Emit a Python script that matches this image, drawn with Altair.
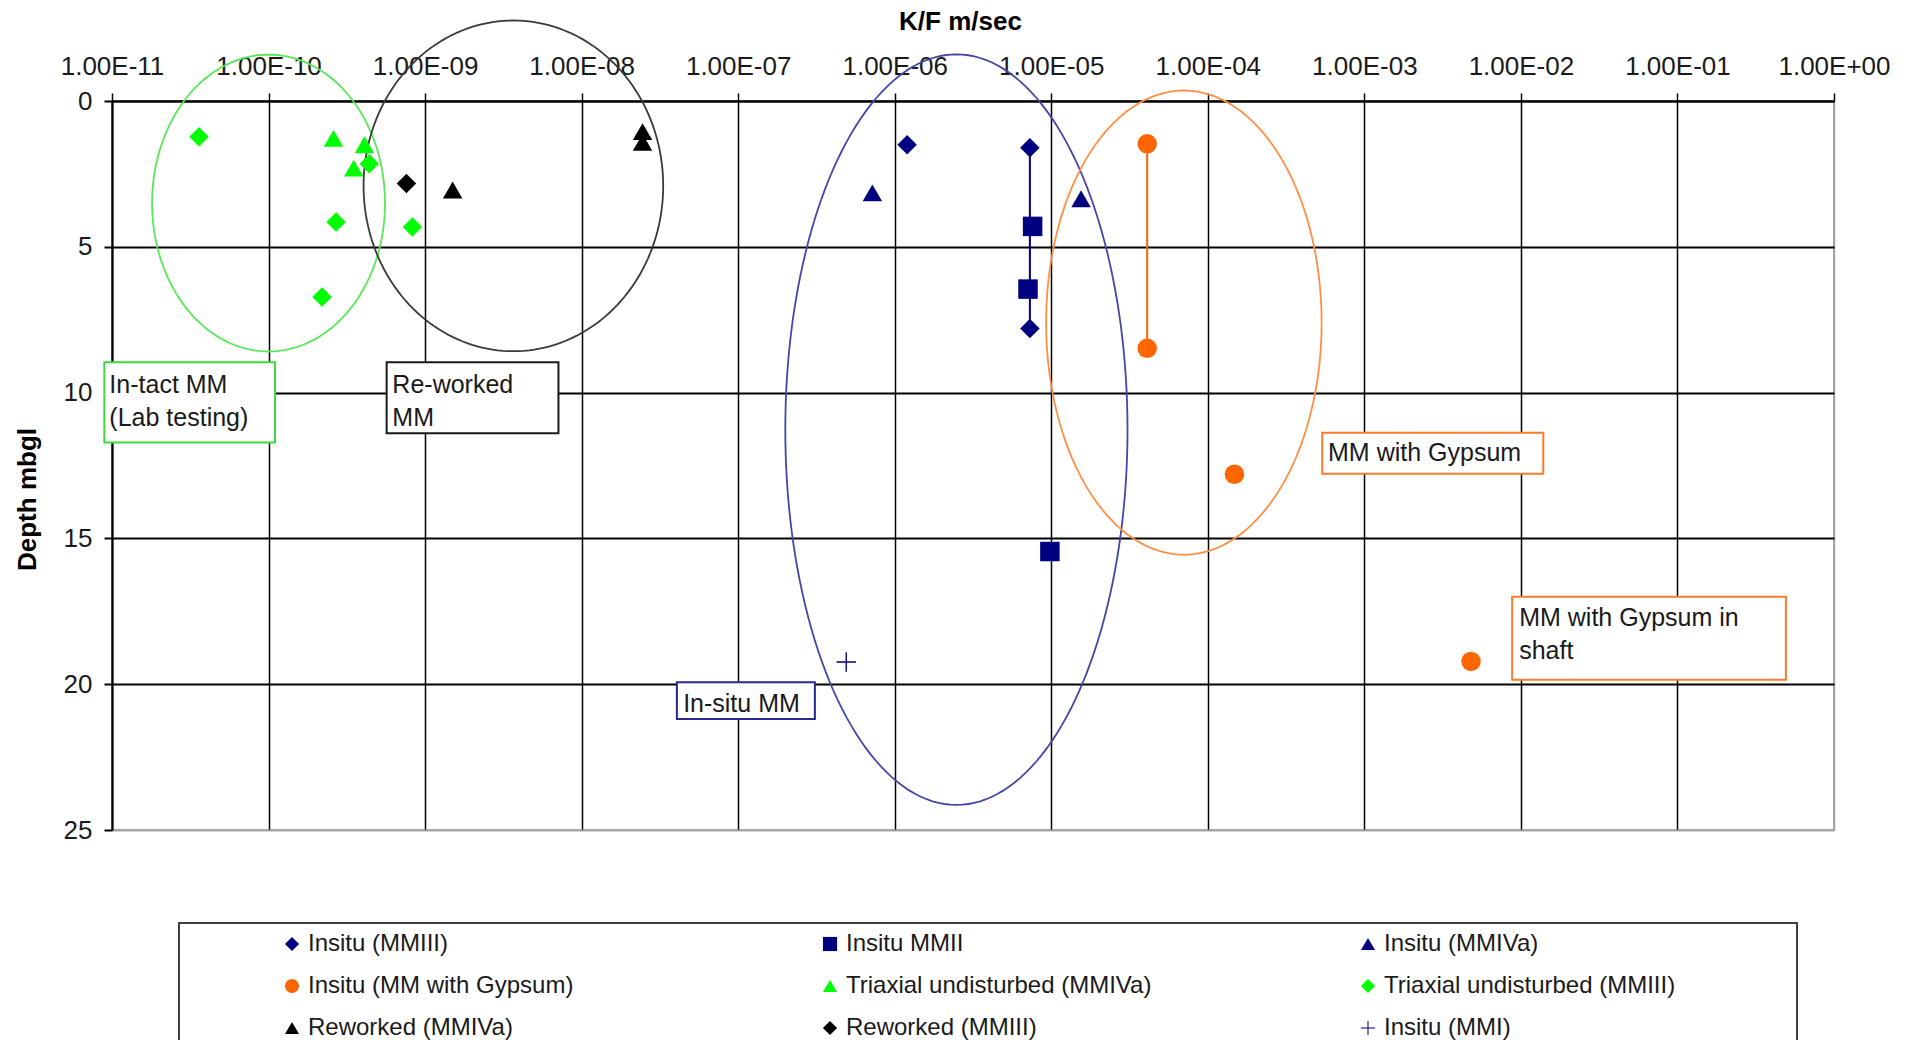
import altair as alt
import pandas as pd

# Hydraulic conductivity (K, m/s) of mudstone samples against depth below ground level
SERIES = [
    "Insitu (MMIII)", "Insitu MMII", "Insitu (MMIVa)",
    "Insitu (MM with Gypsum)", "Triaxial undisturbed (MMIVa)", "Triaxial undisturbed (MMIII)",
    "Reworked (MMIVa)", "Reworked (MMIII)", "Insitu (MMI)",
]
SERIES_COLORS = [
    "#000080", "#000080", "#000080",
    "#ff6600", "#00ff00", "#00ff00",
    "#000000", "#000000", "#000080",
]
# thin plus sign drawn as a filled outline
PLUS = ("M-1,-0.07L-0.07,-0.07L-0.07,-1L0.07,-1L0.07,-0.07L1,-0.07L1,0.07"
        "L0.07,0.07L0.07,1L-0.07,1L-0.07,0.07L-1,0.07Z")
SERIES_SHAPES = [
    "diamond", "square", "triangle-up",
    "circle", "triangle-up", "diamond",
    "triangle-up", "diamond", PLUS,
]

insitu_mmiii_k = [1.2e-6, 7.3e-6, 7.3e-6]
insitu_mmiii_depth = [1.5, 1.6, 7.8]
insitu_mmii_k = [7.6e-6, 7.1e-6, 9.8e-6]
insitu_mmii_depth = [4.3, 6.45, 15.45]
insitu_mmiva_k = [7.2e-7, 1.55e-5]
insitu_mmiva_depth = [3.15, 3.35]
gypsum_k = [4.1e-5, 4.1e-5, 1.48e-4, 4.8e-3]
gypsum_depth = [1.47, 8.48, 12.8, 19.22]
triax_mmiva_k = [2.6e-10, 4.1e-10, 3.5e-10]
triax_mmiva_depth = [1.28, 1.5, 2.3]
triax_mmiii_k = [3.6e-11, 4.4e-10, 2.7e-10, 8.3e-10, 2.2e-10]
triax_mmiii_depth = [1.23, 2.15, 4.15, 4.32, 6.72]
reworked_mmiva_k = [1.5e-9, 2.45e-8, 2.45e-8]
reworked_mmiva_depth = [3.05, 1.05, 1.42]
reworked_mmiii_k = [7.6e-10]
reworked_mmiii_depth = [2.83]
insitu_mmi_k = [4.9e-7]
insitu_mmi_depth = [19.24]

K_VALUES = [insitu_mmiii_k, insitu_mmii_k, insitu_mmiva_k, gypsum_k, triax_mmiva_k,
            triax_mmiii_k, reworked_mmiva_k, reworked_mmiii_k, insitu_mmi_k]
DEPTHS = [insitu_mmiii_depth, insitu_mmii_depth, insitu_mmiva_depth, gypsum_depth,
          triax_mmiva_depth, triax_mmiii_depth, reworked_mmiva_depth, reworked_mmiii_depth,
          insitu_mmi_depth]

# points joined by a line (same test location, different depths)
LINKED = {"Insitu (MMIII)": [1, 2], "Insitu (MM with Gypsum)": [0, 1]}

X_TICK_LABELS = ["1.00E-11", "1.00E-10", "1.00E-09", "1.00E-08", "1.00E-07", "1.00E-06",
                 "1.00E-05", "1.00E-04", "1.00E-03", "1.00E-02", "1.00E-01", "1.00E+00"]
Y_TICKS = [0, 5, 10, 15, 20, 25]

# grouping ellipses, in log10(K) and depth
ELLIPSE_NAMES = ["intact", "reworked", "insitu", "gypsum"]
ELLIPSE_LOG10K_CENTRE = [-10.0, -8.436, -5.606, -4.153]
ELLIPSE_LOG10K_HALF = [0.744, 0.957, 1.093, 0.880]
ELLIPSE_DEPTH_CENTRE = [3.50, 2.91, 11.27, 7.60]
ELLIPSE_DEPTH_HALF = [5.09, 5.67, 12.87, 7.96]
ELLIPSE_COLORS = ["#5ae65a", "#3a3a3a", "#4646a8", "#ff8f45"]

# labelled boxes naming each group (text anchored at the centre of its first line)
NOTE_TEXT = ["In-tact MM\n(Lab testing)", "Re-worked\nMM", "In-situ MM",
             "MM with Gypsum", "MM with Gypsum in\nshaft"]
NOTE_K_LO = [8.93e-12, 5.68e-10, 4.06e-8, 5.38e-4, 8.79e-3]
NOTE_K_HI = [1.10e-10, 7.11e-9, 3.09e-7, 1.39e-2, 0.493]
NOTE_D_LO = [8.96, 8.96, 19.93, 11.38, 17.0]
NOTE_D_HI = [11.71, 11.39, 21.19, 12.78, 19.85]
NOTE_K_TEXT = [9.62e-12, 6.18e-10, 4.45e-8, 5.86e-4, 9.75e-3]
NOTE_D_TEXT = [9.73, 9.73, 20.68, 12.07, 17.73]
NOTE_COLORS = ["#3ddc3d", "#1a1a1a", "#2a2a8c", "#ff7a2a", "#ff7a2a"]

FONT = "Liberation Sans"
LEGEND_COLUMNS = 3

hue = dict(zip(SERIES, SERIES_COLORS))
glyph = dict(zip(SERIES, SERIES_SHAPES))
rows = []
for name, ks, ds in zip(SERIES, K_VALUES, DEPTHS):
    for i, (k, d) in enumerate(zip(ks, ds)):
        link = name if i in LINKED.get(name, []) else ""
        rows.append({"series": name, "k": k, "depth": d, "link": link, "hue": hue[name]})
points_df = pd.DataFrame(rows)

# the legend fills its grid column by column, so list the series in that order
n_rows = -(-len(SERIES) // LEGEND_COLUMNS)
legend_order = [SERIES[r * LEGEND_COLUMNS + c] for c in range(LEGEND_COLUMNS) for r in range(n_rows)
                if r * LEGEND_COLUMNS + c < len(SERIES)]

ellipse_df = pd.DataFrame({
    "name": ELLIPSE_NAMES, "cx": ELLIPSE_LOG10K_CENTRE, "rx": ELLIPSE_LOG10K_HALF,
    "cy": ELLIPSE_DEPTH_CENTRE, "ry": ELLIPSE_DEPTH_HALF, "col": ELLIPSE_COLORS,
})

notes_df = pd.DataFrame({
    "text": NOTE_TEXT, "k_lo": NOTE_K_LO, "k_hi": NOTE_K_HI, "d_lo": NOTE_D_LO,
    "d_hi": NOTE_D_HI, "k_text": NOTE_K_TEXT, "d_text": NOTE_D_TEXT, "col": NOTE_COLORS,
})

x_scale = alt.Scale(type="log", domain=[float(X_TICK_LABELS[0]), float(X_TICK_LABELS[-1])], nice=False)
y_scale = alt.Scale(domain=[Y_TICKS[0], Y_TICKS[-1]], reverse=True, nice=False, zero=False)

label_expr = "[" + ",".join(f"'{s}'" for s in X_TICK_LABELS) + "][round(log(datum.value) / LN10) + 11]"

x_axis = alt.Axis(
    orient="top", values=[float(s) for s in X_TICK_LABELS], labelExpr=label_expr,
    labelFlush=False, labelOverlap=False, labelFont=FONT, labelFontSize=26, labelColor="#1a1a1a",
    labelPadding=14, tickSize=8, tickWidth=1.5, tickColor="#000000",
    domainColor="#000000", domainWidth=2,
    grid=True, gridWidth=1.5, gridColor=alt.expr("datum.value >= 1 ? '#a6a6a6' : '#000000'"),
    title="K/F m/sec", titleFont=FONT, titleFontSize=26, titleFontWeight="bold", titleColor="#000000",
    titleX=848, titleY=-80, titleBaseline="middle", titleAlign="center",
)
y_axis = alt.Axis(
    values=Y_TICKS, labelFont=FONT, labelFontSize=26, labelColor="#1a1a1a", labelPadding=12,
    tickSize=8, tickWidth=2, tickColor="#000000", domainColor="#000000", domainWidth=2,
    grid=True, gridWidth=2, gridColor=alt.expr("datum.value >= 25 ? '#a6a6a6' : '#000000'"),
    title="Depth mbgl", titleFont=FONT, titleFontSize=26, titleFontWeight="bold", titleColor="#000000",
    titleX=-85, titleY=398, titleAngle=270, titleAlign="center", titleBaseline="middle",
)


def X(field):
    return alt.X(field, type="quantitative", scale=x_scale, axis=x_axis)


def Y(field):
    return alt.Y(field, type="quantitative", scale=y_scale, axis=y_axis)


series_colors = alt.Scale(domain=legend_order, range=[hue[s] for s in legend_order])
series_shapes = alt.Scale(domain=legend_order, range=[glyph[s] for s in legend_order])
legend = alt.Legend(
    orient="none", legendX=168, legendY=831, columns=LEGEND_COLUMNS, title=None, gridAlign="all",
    columnPadding=204, rowPadding=18, labelFont=FONT, labelFontSize=24, labelColor="#1a1a1a",
    labelOffset=4, symbolSize=200, symbolStrokeWidth=0, labelLimit=600,
)

ellipses = alt.Chart(ellipse_df).transform_calculate(
    t="sequence(0, 361, 2)"
).transform_flatten(["t"]).transform_calculate(
    k="pow(10, datum.cx + datum.rx * cos(datum.t * PI / 180))",
    depth="datum.cy + datum.ry * sin(datum.t * PI / 180)",
).mark_line(strokeWidth=1.8).encode(
    x=X("k"), y=Y("depth"), detail="name:N", order="t:Q",
    color=alt.Color("col:N", scale=None),
)

links = alt.Chart(points_df).transform_filter("datum.link != ''").mark_line(strokeWidth=2).encode(
    x=X("k"), y=Y("depth"), detail="link:N", order="depth:Q",
    color=alt.Color("hue:N", scale=None),
)

points = alt.Chart(points_df).mark_point(filled=True, size=380, opacity=1).encode(
    x=X("k"), y=Y("depth"),
    fill=alt.Fill("series:N", scale=series_colors, legend=legend),
    shape=alt.Shape("series:N", scale=series_shapes, legend=legend),
)

boxes = alt.Chart(notes_df).mark_rect(filled=False, fill="white", strokeWidth=2).encode(
    x=X("k_lo"), x2="k_hi", y=Y("d_lo"), y2="d_hi",
    color=alt.Color("col:N", scale=None),
)

texts = alt.Chart(notes_df).mark_text(
    align="left", baseline="middle", font=FONT, fontSize=25, lineHeight=33,
    lineBreak="\n", color="#1a1a1a",
).encode(x=X("k_text"), y=Y("d_text"), text="text:N")

legend_frame = alt.Chart(pd.DataFrame({"frame": [0]})).mark_rect(
    filled=False, stroke="#404040", strokeWidth=2
).encode(x=alt.value(67), x2=alt.value(1685), y=alt.value(822), y2=alt.value(1010))

chart = alt.layer(ellipses, links, points, boxes, texts, legend_frame).properties(
    width=1722, height=729,
    padding={"left": 112, "top": 101, "right": 80, "bottom": 210},
    autosize=alt.AutoSizeParams(type="none"),
    background="white",
).configure_view(stroke="#a6a6a6", strokeWidth=2)

chart.save("out.html", embed_options={"renderer": "svg", "actions": False})
